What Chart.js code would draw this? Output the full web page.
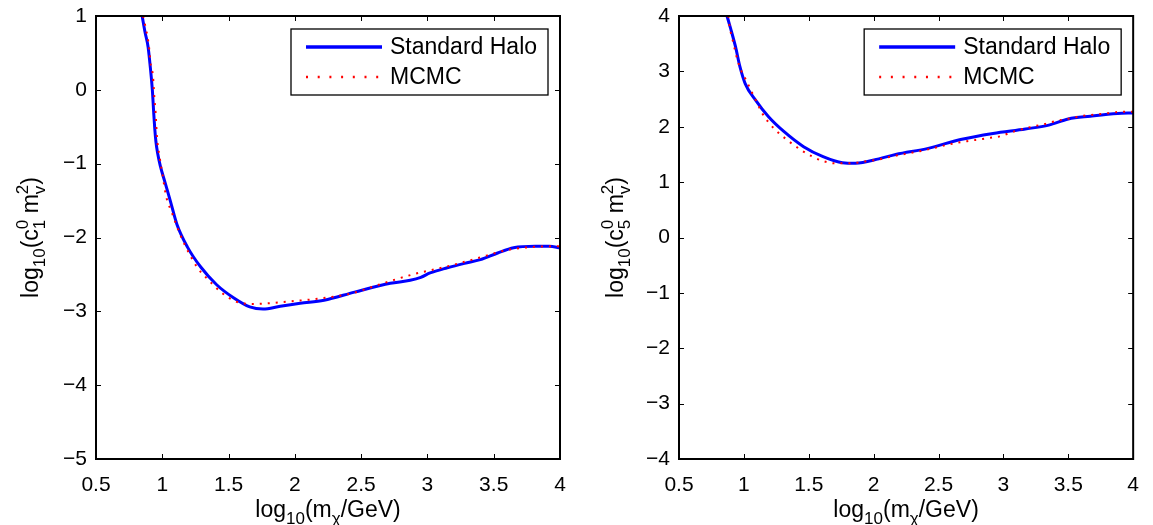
<!DOCTYPE html>
<html>
<head>
<meta charset="utf-8">
<script src="https://cdn.jsdelivr.net/npm/chart.js@4"></script>
<style>
  html, body { margin: 0; padding: 0; background: #fff; }
  #wrap { position: relative; width: 1153px; height: 525px; }
  canvas { position: absolute; top: 0; }
</style>
</head>
<body>
<div id="wrap">
  <canvas id="c1" width="580" height="525" style="left:0"></canvas>
  <canvas id="c5" width="573" height="525" style="left:580px"></canvas>
</div>
<script>
// ── data ──
const xTicks = [0.5, 1, 1.5, 2, 2.5, 3, 3.5, 4];
const c1Ticks = [-5, -4, -3, -2, -1, 0, 1];
const c5Ticks = [-4, -3, -2, -1, 0, 1, 2, 3, 4];
const seriesLabels = ['Standard Halo', 'MCMC'];

// left panel, c1
const c1HaloX = [0.848, 0.87, 0.893, 0.91, 0.925, 0.935, 0.943, 0.952, 0.965, 0.985, 1.02, 1.06, 1.11, 1.19, 1.29, 1.41, 1.54, 1.66, 1.76, 1.89, 2.04, 2.22, 2.45, 2.72, 2.87, 2.95, 3.02, 3.15, 3.28, 3.40, 3.53, 3.65, 3.81, 3.92, 4.0];
const c1HaloY = [1.0, 0.78, 0.58, 0.3, 0.0, -0.3, -0.52, -0.7, -0.86, -1.03, -1.25, -1.5, -1.82, -2.13, -2.40, -2.64, -2.82, -2.94, -2.97, -2.93, -2.89, -2.85, -2.74, -2.62, -2.58, -2.54, -2.48, -2.41, -2.35, -2.30, -2.21, -2.14, -2.12, -2.12, -2.14];
const c1McmcX = [0.855, 0.87, 0.90, 0.91, 0.93, 0.94, 0.95, 0.96, 0.98, 1.0, 1.03, 1.07, 1.13, 1.21, 1.27, 1.34, 1.45, 1.56, 1.69, 1.81, 1.93, 2.17, 2.42, 2.65, 2.89, 3.13, 3.36, 3.60, 3.78, 3.96, 4.0];
const c1McmcY = [1.0, 0.88, 0.58, 0.38, 0.18, -0.1, -0.32, -0.64, -0.91, -1.13, -1.45, -1.65, -1.94, -2.24, -2.42, -2.56, -2.75, -2.87, -2.90, -2.89, -2.87, -2.83, -2.76, -2.63, -2.50, -2.40, -2.29, -2.17, -2.13, -2.12, -2.12];

// right panel, c5
const c5HaloX = [0.87, 0.897, 0.935, 0.97, 1.01, 1.09, 1.19, 1.31, 1.46, 1.61, 1.76, 1.86, 2.04, 2.17, 2.42, 2.67, 2.92, 3.17, 3.35, 3.50, 3.67, 3.88, 4.0];
const c5HaloY = [4.0, 3.78, 3.45, 3.08, 2.78, 2.48, 2.18, 1.91, 1.64, 1.46, 1.35, 1.34, 1.42, 1.50, 1.61, 1.77, 1.88, 1.96, 2.03, 2.14, 2.19, 2.24, 2.25];
const c5McmcX = [0.88, 0.89, 0.91, 0.93, 0.95, 0.98, 1.02, 1.06, 1.10, 1.14, 1.19, 1.24, 1.34, 1.44, 1.53, 1.61, 1.70, 1.79, 1.86, 1.95, 2.04, 2.13, 2.20, 2.29, 2.38, 2.47, 2.56, 2.64, 2.72, 2.81, 2.90, 2.98, 3.06, 3.15, 3.24, 3.32, 3.40, 3.49, 3.57, 3.66, 3.75, 3.83, 3.91, 4.0];
const c5McmcY = [4.0, 3.81, 3.60, 3.40, 3.21, 3.01, 2.83, 2.63, 2.44, 2.25, 2.08, 1.95, 1.75, 1.58, 1.46, 1.38, 1.34, 1.34, 1.35, 1.38, 1.41, 1.46, 1.49, 1.53, 1.57, 1.62, 1.67, 1.71, 1.74, 1.77, 1.80, 1.83, 1.90, 1.96, 2.01, 2.05, 2.10, 2.14, 2.18, 2.21, 2.23, 2.25, 2.27, 2.27];

const FONT = '"Liberation Sans", Arial, Helvetica, sans-serif';
const BLUE = '#0000ff';
const RED = '#ff0000';

const pts = (xs, ys) => xs.map((x, i) => ({ x, y: ys[i] }));
const minus = v => (v < 0 ? '\u2212' + Math.abs(v) : String(v));

// draw text with sub/superscripts; parts: {t} | {sub} | {sup} | {sup, sub}
function richWidth(ctx, parts, size) {
  let w = 0;
  parts.forEach(p => {
    if (p.t !== undefined) { ctx.font = size + 'px ' + FONT; w += ctx.measureText(p.t).width; }
    else {
      ctx.font = Math.round(size * 0.72) + 'px ' + FONT;
      w += Math.max(p.sup ? ctx.measureText(p.sup).width : 0, p.sub ? ctx.measureText(p.sub).width : 0);
    }
  });
  return w;
}
function drawRich(ctx, parts, size, x, y) {
  ctx.textBaseline = 'alphabetic';
  ctx.textAlign = 'left';
  parts.forEach(p => {
    if (p.t !== undefined) {
      ctx.font = size + 'px ' + FONT;
      ctx.fillText(p.t, x, y);
      x += ctx.measureText(p.t).width;
    } else {
      ctx.font = Math.round(size * 0.72) + 'px ' + FONT;
      let w = 0;
      if (p.sup) { ctx.fillText(p.sup, x, y - size * 0.42); w = ctx.measureText(p.sup).width; }
      if (p.sub) { ctx.fillText(p.sub, x, y + size * 0.3); w = Math.max(w, ctx.measureText(p.sub).width); }
      x += w;
    }
  });
}

// frame, inward ticks, legend and axis titles (MATLAB look)
const matlabFrame = {
  id: 'matlabFrame',
  afterDraw(chart, args, o) {
    const { ctx, chartArea: a, scales: { x, y } } = chart;
    ctx.save();
    ctx.strokeStyle = '#000';
    ctx.lineWidth = 1;
    ctx.beginPath();
    x.ticks.forEach(t => {
      const p = Math.round(x.getPixelForValue(t.value)) + 0.5;
      ctx.moveTo(p, a.bottom); ctx.lineTo(p, a.bottom - 5);
      ctx.moveTo(p, a.top); ctx.lineTo(p, a.top + 5);
    });
    y.ticks.forEach(t => {
      const p = Math.round(y.getPixelForValue(t.value)) + 0.5;
      ctx.moveTo(a.left, p); ctx.lineTo(a.left + 5, p);
      ctx.moveTo(a.right, p); ctx.lineTo(a.right - 5, p);
    });
    ctx.stroke();
    ctx.lineWidth = 2;
    ctx.strokeRect(a.left, a.top, a.right - a.left, a.bottom - a.top);

    // legend box
    const lw = 257, lh = 66;
    const lx = a.right - 12 - lw, ly = a.top + 13;
    ctx.fillStyle = '#fff';
    ctx.fillRect(lx, ly, lw, lh);
    ctx.lineWidth = 1.3;
    ctx.strokeRect(lx, ly, lw, lh);
    chart.data.datasets.forEach((ds, i) => {
      const ry = ly + 18 + i * 30;
      ctx.beginPath();
      ctx.strokeStyle = ds.borderColor;
      ctx.lineWidth = ds.borderWidth + 0.5;
      ctx.setLineDash(ds.borderDash && ds.borderDash.length ? [2, 9.7] : []);
      ctx.moveTo(lx + 15, ry); ctx.lineTo(lx + 91, ry);
      ctx.stroke();
      ctx.setLineDash([]);
      ctx.fillStyle = '#000';
      ctx.font = '23px ' + FONT;
      ctx.textBaseline = 'middle';
      ctx.textAlign = 'left';
      ctx.fillText(ds.label, lx + 99, ry + 1);
    });

    // axis titles
    ctx.fillStyle = '#000';
    const xt = [{ t: 'log' }, { sub: '10' }, { t: '(m' }, { sub: 'χ' }, { t: '/GeV)' }];
    const xw = richWidth(ctx, xt, 23);
    drawRich(ctx, xt, 23, (a.left + a.right) / 2 - xw / 2, 517);
    const yw = richWidth(ctx, o.yTitle, 23);
    ctx.translate(o.yTitleX, (a.top + a.bottom) / 2);
    ctx.rotate(-Math.PI / 2);
    drawRich(ctx, o.yTitle, 23, -yw / 2, 0);
    ctx.restore();
  }
};

function makePanel(id, yTicks, yTitle, yTitleX, yAxisWidth, padRight, halo, mcmc) {
  return new Chart(document.getElementById(id), {
    type: 'line',
    data: {
      datasets: [
        {
          label: seriesLabels[0], data: halo, borderColor: BLUE, borderWidth: 3,
          pointRadius: 0, cubicInterpolationMode: 'monotone', fill: false, order: 2
        },
        {
          label: seriesLabels[1], data: mcmc, borderColor: RED, borderWidth: 2, borderDash: [2, 6],
          pointRadius: 0, cubicInterpolationMode: 'monotone', fill: false, order: 1
        }
      ]
    },
    options: {
      responsive: false,
      animation: false,
      devicePixelRatio: 1,
      layout: { padding: { top: 16, right: padRight, left: 0, bottom: 0 } },
      plugins: {
        legend: { display: false },
        tooltip: { enabled: false },
        matlabFrame: { yTitle, yTitleX }
      },
      scales: {
        x: {
          type: 'linear', min: 0.5, max: 4,
          afterBuildTicks: s => { s.ticks = xTicks.map(v => ({ value: v })); },
          afterFit: s => { s.height = 66; },
          grid: { display: false, drawTicks: false },
          border: { display: false },
          ticks: { color: '#000', font: { size: 21, family: FONT }, padding: 14, maxRotation: 0, autoSkip: false, callback: v => String(v) }
        },
        y: {
          type: 'linear', min: yTicks[0], max: yTicks[yTicks.length - 1],
          afterBuildTicks: s => { s.ticks = yTicks.map(v => ({ value: v })); },
          afterFit: s => { s.width = yAxisWidth; },
          grid: { display: false, drawTicks: false },
          border: { display: false },
          ticks: { color: '#000', font: { size: 21, family: FONT, lineHeight: 0.5 }, padding: 9, autoSkip: false, callback: minus }
        }
      }
    },
    plugins: [matlabFrame]
  });
}

makePanel('c1', c1Ticks,
  [{ t: 'log' }, { sub: '10' }, { t: '(c' }, { sup: '0', sub: '1' }, { t: ' m' }, { sup: '2', sub: 'v' }, { t: ')' }],
  38, 96, 20, pts(c1HaloX, c1HaloY), pts(c1McmcX, c1McmcY));

makePanel('c5', c5Ticks,
  [{ t: 'log' }, { sub: '10' }, { t: '(c' }, { sup: '0', sub: '5' }, { t: ' m' }, { sup: '2', sub: 'v' }, { t: ')' }],
  43, 99, 10, pts(c5HaloX, c5HaloY), pts(c5McmcX, c5McmcY));
</script>
</body>
</html>
